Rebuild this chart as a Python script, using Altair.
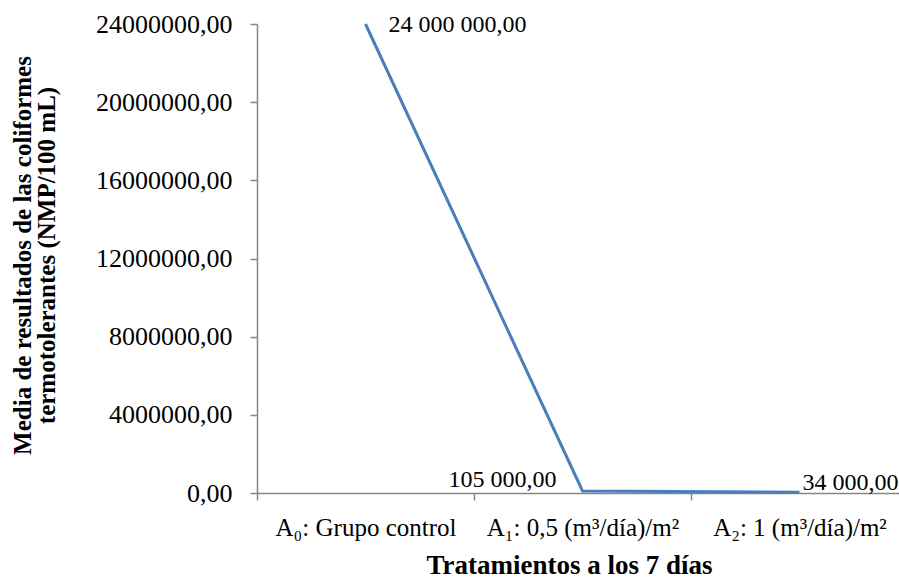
import altair as alt
import pandas as pd

categories = ["A₀: Grupo control", "A₁: 0,5 (m³/día)/m²", "A₂: 1 (m³/día)/m²"]
values = [24000000, 105000, 34000]
y_ticks = [0, 4000000, 8000000, 12000000, 16000000, 20000000, 24000000]
x_title = "Tratamientos a los 7 días"
y_title = ["Media de resultados de las coliformes", "termotolerantes (NMP/100 mL)"]


def fmt(v):
    return f"{v:,.2f}".replace(",", " ").replace(".", ",")


labels = [fmt(v) for v in values]
side = ["first", "left", "right"]

df = pd.DataFrame({"cat": categories, "val": values, "label": labels, "side": side})

FONT = "Liberation Serif"
GREY = "#868686"

x_enc = alt.X(
    "cat:N",
    sort=categories,
    scale=alt.Scale(type="band", range=[0, 651], paddingInner=0, paddingOuter=0),
    axis=alt.Axis(
        title=x_title,
        titleFont=FONT,
        titleFontSize=27,
        titleFontWeight="bold",
        titleColor="black",
        titleX=312,
        titleY=80,
        titleBaseline="alphabetic",
        labelFont=FONT,
        labelFontSize=25,
        labelColor="black",
        labelAngle=0,
        labelPadding=15,
        labelLimit=400,
        labelOverlap=False,
        tickBand="extent",
        tickSize=7,
        tickColor=GREY,
        tickWidth=1.5,
        domainColor=GREY,
        domainWidth=1.5,
        grid=False,
    ),
)

y_enc = alt.Y(
    "val:Q",
    scale=alt.Scale(domain=[0, 24000000], nice=False),
    axis=alt.Axis(
        title=y_title,
        titleFont=FONT,
        titleFontSize=25,
        titleFontWeight="bold",
        titleColor="black",
        titleAngle=-90,
        titleX=-247,
        titleY=231,
        titleAlign="center",
        titleBaseline="top",
        titleLineHeight=24,
        values=y_ticks,
        labelExpr="replace(format(datum.value, '.2f'), '.', ',')",
        labelFont=FONT,
        labelFontSize=26,
        labelColor="black",
        labelPadding=18,
        tickSize=7,
        tickColor=GREY,
        tickWidth=1.5,
        domainColor=GREY,
        domainWidth=1.5,
        grid=False,
    ),
)

base = alt.Chart(df)
xs = alt.X("cat:N", sort=categories)

line = base.mark_line(color="#4A7EBB", strokeWidth=3).encode(x=x_enc, y=y_enc)

first_label = base.transform_filter(alt.datum.side == "first").mark_text(
    align="left", baseline="alphabetic", font=FONT, fontSize=24, color="black", dx=23, dy=8
).encode(x=xs, y="val:Q", text="label:N")

left_labels = base.transform_filter(alt.datum.side == "left").mark_text(
    align="right", baseline="alphabetic", font=FONT, fontSize=24, color="black", dx=-26, dy=-4
).encode(x=xs, y="val:Q", text="label:N")

right_labels = base.transform_filter(alt.datum.side == "right").mark_text(
    align="left", baseline="alphabetic", font=FONT, fontSize=24, color="black", dx=3, dy=-2
).encode(x=xs, y="val:Q", text="label:N")

chart = (
    alt.layer(line, first_label, left_labels, right_labels)
    .properties(
        width=642,
        height=469,
        autosize=alt.AutoSizeParams(type="none"),
        padding={"left": 257, "top": 24, "right": 0, "bottom": 85},
        background="white",
    )
    .configure_view(stroke=None)
)

chart.save("out.html", embed_options={"renderer": "svg", "actions": False})
